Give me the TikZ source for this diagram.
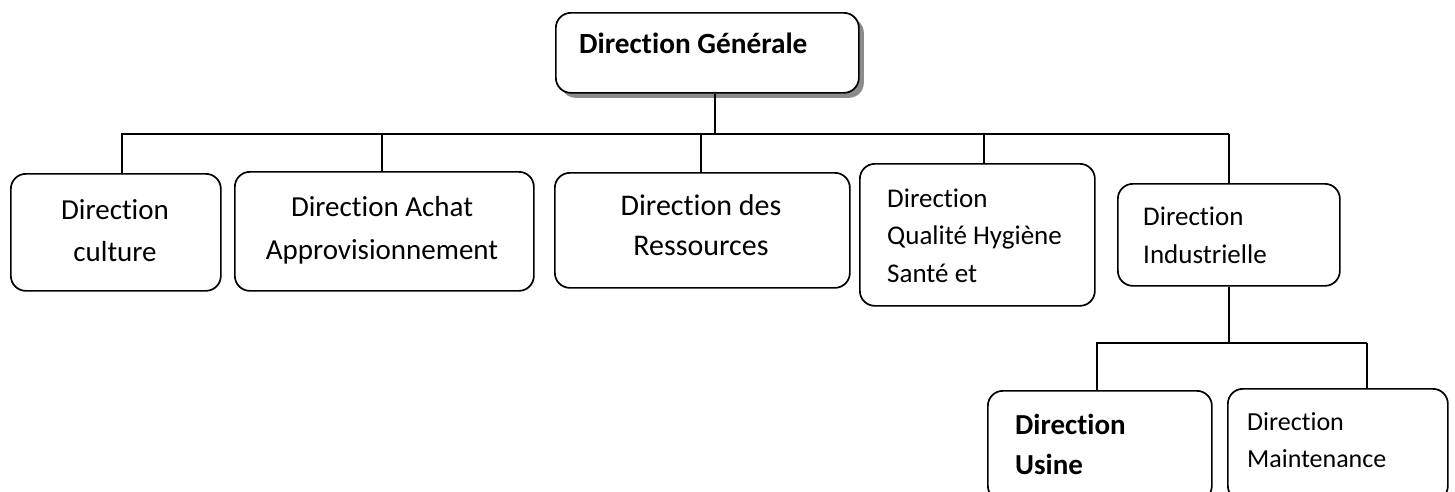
\documentclass[tikz,border=0pt]{standalone}
\usepackage{fontspec}
\setmainfont{Carlito}[Ligatures=NoCommon]
\usetikzlibrary{shadows}
\begin{document}
\begin{tikzpicture}[x=1pt,y=-1pt,
  box/.style={draw, line width=1.7pt, rounded corners=15pt, anchor=north west,
    inner sep=0pt, fill=white},
  link/.style={line width=1.7pt},
  heavy link/.style={line width=2.8pt},
  txt/.style={inner sep=0pt, anchor=base west, align=left},
  ctxt/.style={inner sep=0pt, anchor=base, align=center}]
\useasboundingbox (0,0) rectangle (1455,491);

% head office box with its grey shadow
\node[box, minimum width=303pt, minimum height=80pt,
  drop shadow={shadow xshift=5pt, shadow yshift=-5pt, fill=black!45, opacity=1}]
  (gen) at (555,12) {};
\node[txt, font=\fontsize{29.3}{36}\selectfont\bfseries] (gen-t) at (579,53) {Direction Générale};

% first level (text nodes are placed by the baseline of their last line)
\node[box, minimum width=210pt, minimum height=117pt] (cul) at (10,173) {};
\node[ctxt, font=\fontsize{29}{42}\selectfont] (cul-t) at (115,261) {Direction\\culture};

\node[box, minimum width=299pt, minimum height=119pt] (ach) at (234,171) {};
\node[ctxt, font=\fontsize{29}{43}\selectfont] (ach-t) at (382,259) {Direction Achat\\Approvisionnement};

\node[box, minimum width=295pt, minimum height=115pt] (res) at (554,172) {};
\node[ctxt, font=\fontsize{30}{40}\selectfont] (res-t) at (701,255) {Direction des\\Ressources};

\node[box, minimum width=235pt, minimum height=142pt] (qua) at (859,163) {};
\node[txt, font=\fontsize{27}{37.5}\selectfont] (qua-t) at (887,282) {Direction\\Qualité Hygiène\\Santé et};

\node[box, minimum width=222pt, minimum height=102pt] (ind) at (1117,183) {};
\node[txt, font=\fontsize{27}{38}\selectfont] (ind-t) at (1143,263) {Direction\\Industrielle};

% second level under the industrial division
\node[box, minimum width=224pt, minimum height=110pt] (usi) at (987,390) {};
\node[txt, font=\fontsize{29}{40}\selectfont\bfseries] (usi-t) at (1015,474) {Direction\\Usine};

\node[box, minimum width=220pt, minimum height=112pt] (mai) at (1227,388) {};
\node[txt, font=\fontsize{26}{37}\selectfont] (mai-t) at (1247,467) {Direction\\Maintenance};

% main bus
\coordinate (busL) at (122,134);
\coordinate (busR) at (ind.north |- busL);
\draw[link] ([xshift=7.5pt]gen.south) -- ([xshift=7.5pt]gen.south |- busL);
\draw[link] (busL) -- (busR);
\draw[heavy link] ([yshift=1pt]busL) -- (busL |- cul.north);
\draw[link] ([xshift=-2.5pt]ach.north |- busL) -- ([xshift=-2.5pt]ach.north);
\draw[link] ([xshift=-1.5pt]res.north |- busL) -- ([xshift=-1.5pt]res.north);
\draw[link] ([xshift=6.5pt]qua.north |- busL) -- ([xshift=6.5pt]qua.north);
\draw[link] (busR) -- (ind.north);

% sub bus
\coordinate (subL) at (1097,343);
\coordinate (subR) at (1367,343);
\draw[link] (ind.south) -- (ind.south |- subL);
\draw[link] (subL) -- (subR);
\draw[heavy link] ([yshift=1pt]subL) -- (subL |- usi.north);
\draw[link] (subR) -- (subR |- mai.north);
\end{tikzpicture}
\end{document}
